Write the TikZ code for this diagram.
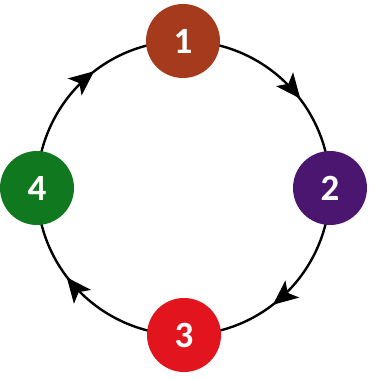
\documentclass[tikz,border=0pt]{standalone}
\usepackage{fontspec}
\setmainfont{Carlito}
\usetikzlibrary{backgrounds}
\definecolor{cone}{HTML}{A63A1C}
\definecolor{ctwo}{HTML}{4B1670}
\definecolor{cthree}{HTML}{E2141E}
\definecolor{cfour}{HTML}{10781E}
\begin{document}
\begin{tikzpicture}[x=1pt,y=1pt,
  num/.style={circle,minimum size=74pt,inner sep=0pt,text=white,font=\fontsize{37}{37}\selectfont\bfseries},
  ring/.style={line width=2.4pt,black}]
\useasboundingbox (0,0) rectangle (369,379);
\node[num,fill=cone]   (n1) at (183,338) {1};
\node[num,fill=ctwo]   (n2) at (330,191) {2};
\node[num,fill=cthree] (n3) at (184,44) {3};
\node[num,fill=cfour]  (n4) at (37,191) {4};
\coordinate (c) at (183.5,191);
\begin{scope}[on background layer]
\draw[ring] (n1.center) to[out=0,in=90] (n2.center);
\draw[ring] (n2.center) to[out=-90,in=0] (n3.center);
\draw[ring] (n3.center) to[out=180,in=-90] (n4.center);
\draw[ring] (n4.center) to[out=90,in=180] (n1.center);
\end{scope}
\foreach \a in {39,-51,-141,129}{
  \begin{scope}[shift={(c)},rotate=\a]
    \fill (147,-4) -- (158,21) -- (147,15) -- (136,21) -- cycle;
  \end{scope}
}
\end{tikzpicture}
\end{document}
